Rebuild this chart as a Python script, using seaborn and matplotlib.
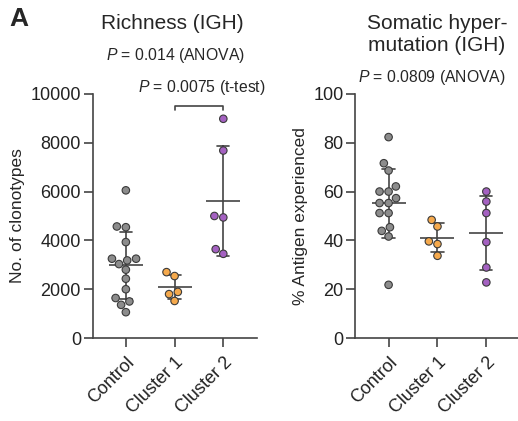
import numpy as np
import pandas as pd
import matplotlib
matplotlib.use("Agg")
import matplotlib.pyplot as plt
import seaborn as sns

# ---- data ----
groups = ["Control", "Cluster 1", "Cluster 2"]
richness_control = [6050, 4570, 4540, 3930, 3250, 3250, 3180, 3030, 2800, 2430, 2000, 1640, 1500, 1360, 1060]
richness_c1 = [2700, 2540, 1890, 1800, 1520]
richness_c2 = [8980, 7680, 5000, 4940, 3640, 3450]
shm_control = [82.3, 71.6, 68.6, 62.1, 60, 60, 57.3, 55.3, 55.3, 51.2, 51.2, 45.4, 43.9, 41.6, 21.8]
shm_c1 = [48.4, 45.7, 39.6, 38.5, 33.7]
shm_c2 = [60, 55.9, 51.2, 39.3, 28.9, 22.8]
colors = ["#8c8c8c", "#f5a94c", "#a461c1"]
richness_ticks = [0, 2000, 4000, 6000, 8000, 10000]
shm_ticks = [0, 20, 40, 60, 80, 100]

sns.set_theme(style="ticks")
plt.rcParams["font.family"] = ["Liberation Sans", "DejaVu Sans"]
line_c = "#444444"
plt.rcParams.update({
    "mathtext.fontset": "custom",
    "mathtext.rm": "Liberation Sans",
    "mathtext.it": "Liberation Sans:italic",
    "axes.edgecolor": line_c, "axes.linewidth": 1.2,
    "xtick.color": line_c, "ytick.color": line_c,
    "xtick.labelcolor": "#222222", "ytick.labelcolor": "#222222",
    "xtick.major.width": 1.2, "ytick.major.width": 1.2,
    "xtick.major.size": 6.5, "ytick.major.size": 6.5,
})


def long_df(vals_list):
    rows = []
    for g, vals in zip(groups, vals_list):
        for v in vals:
            rows.append({"group": g, "value": v})
    return pd.DataFrame(rows)


fig = plt.figure(figsize=(5.18, 4.21), dpi=100)
ax1 = fig.add_axes([0.179, 0.197, 0.317, 0.580])
ax2 = fig.add_axes([0.686, 0.197, 0.318, 0.580])

for ax, vals, ticks, ylabel in [
    (ax1, [richness_control, richness_c1, richness_c2], richness_ticks, "No. of clonotypes"),
    (ax2, [shm_control, shm_c1, shm_c2], shm_ticks, "% Antigen experienced"),
]:
    df = long_df(vals)
    sns.pointplot(data=df, x="group", y="value", order=groups, errorbar="sd",
                  capsize=0.25, color=line_c, markers="_", linestyles="none",
                  markersize=25, markeredgewidth=1.2,
                  err_kws={"linewidth": 1.2}, ax=ax)
    sns.swarmplot(data=df, x="group", y="value", order=groups, hue="group",
                  hue_order=groups, palette=colors, size=5.4,
                  edgecolor="#3a3a3a", linewidth=0.8, legend=False, ax=ax, zorder=3)
    ax.set_xlim(-0.68, 2.69)
    ax.set_ylim(ticks[0], ticks[-1])
    ax.set_yticks(ticks)
    ax.set_xlabel("")
    ax.set_ylabel(ylabel, fontsize=12.5, labelpad=4)
    ax.tick_params(axis="y", labelsize=13, pad=2)
    ax.tick_params(axis="x", labelsize=13, pad=5)
    for lab in ax.get_xticklabels():
        lab.set_rotation(45)
        lab.set_ha("right")
        lab.set_va("top")
        lab.set_rotation_mode("anchor")
    sns.despine(ax=ax)

# significance bracket (cluster 1 vs cluster 2)
yb = 9500
ax1.plot([1, 1, 2, 2], [yb - 150, yb, yb, yb - 150], color=line_c, lw=1.2, clip_on=False)

fig.text(0.019, 0.954, "A", fontsize=19, fontweight="bold", ha="left", va="center")
fig.text(0.332, 0.943, "Richness (IGH)", fontsize=15, ha="center", va="center")
fig.text(0.338, 0.869, r"$P$ = 0.014 (ANOVA)", fontsize=11.3, ha="center", va="center")
fig.text(0.266, 0.793, r"$P$ = 0.0075 (t-test)", fontsize=11.3, ha="left", va="center")
fig.text(0.844, 0.945, "Somatic hyper-", fontsize=15, ha="center", va="center")
fig.text(0.842, 0.891, "mutation (IGH)", fontsize=15, ha="center", va="center")
fig.text(0.834, 0.817, r"$P$ = 0.0809 (ANOVA)", fontsize=11.3, ha="center", va="center")

fig.savefig("out.png", dpi=100)
